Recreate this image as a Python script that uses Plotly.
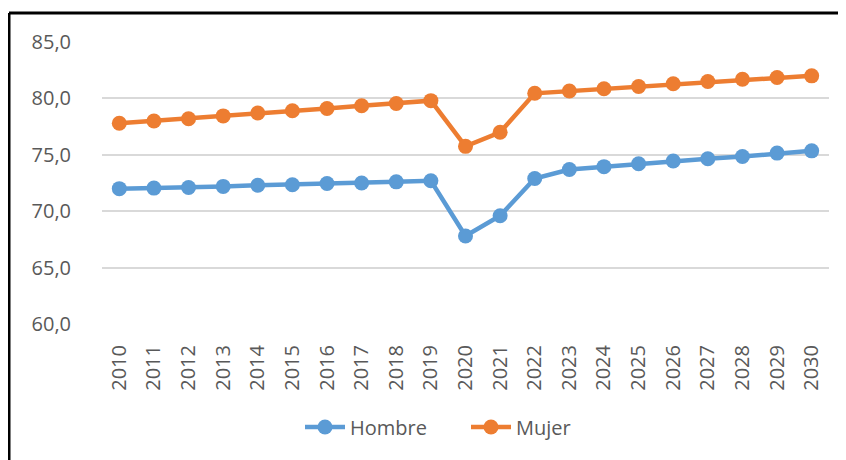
import plotly.graph_objects as go

years = [str(y) for y in range(2010, 2031)]
hombre = [72.0, 72.05, 72.1, 72.2, 72.3, 72.35, 72.45, 72.5, 72.6, 72.7,
          67.8, 69.6, 72.9, 73.7, 73.95, 74.2, 74.45, 74.65, 74.85, 75.15, 75.35]
mujer = [77.8, 78.0, 78.2, 78.45, 78.7, 78.9, 79.1, 79.35, 79.55, 79.8,
         75.75, 77.0, 80.45, 80.65, 80.85, 81.05, 81.3, 81.5, 81.7, 81.85, 82.0]
y_ticks = [60, 65, 70, 75, 80, 85]
y_ticktext = ["60,0", "65,0", "70,0", "75,0", "80,0", "85,0"]

FONT = "Open Sans"
GREY = "#595959"

fig = go.Figure()
fig.add_trace(go.Scatter(x=years, y=hombre, name="Hombre", mode="lines+markers",
                         line=dict(color="#5B9BD5", width=4.5),
                         marker=dict(size=15, color="#5B9BD5")))
fig.add_trace(go.Scatter(x=years, y=mujer, name="Mujer", mode="lines+markers",
                         line=dict(color="#ED7D31", width=4.5),
                         marker=dict(size=15, color="#ED7D31")))

# page body has an 8px margin; work in figure coordinates
OFF = 8
W, H = 846 - OFF, 460 - OFF
L, R, T, B = 102 - OFF, W - (829 - OFF), 42 - OFF, H - (324 - OFF)
pw = W - L - R
ph = H - T - B

def px(x):  # page x -> paper
    return (x - OFF - L) / pw

def py(y):  # page y -> paper
    return (H - B - (y - OFF)) / ph

fig.update_layout(
    width=W, height=H,
    margin=dict(l=L, r=R, t=T, b=B),
    plot_bgcolor="white", paper_bgcolor="white",
    font=dict(family=FONT, size=20, color=GREY),
    showlegend=True,
    legend=dict(orientation="h", x=px(300), xanchor="left", y=py(427), yanchor="middle",
                font=dict(family=FONT, size=20, color=GREY), itemwidth=40,
                entrywidth=111, entrywidthmode="pixels",
                bgcolor="rgba(0,0,0,0)"),
    xaxis=dict(type="category", range=[-0.5, 20.5], showgrid=False, zeroline=False,
               showline=False, tickangle=-90, ticks="outside", ticklen=12,
               tickcolor="rgba(0,0,0,0)", tickfont=dict(family=FONT, size=20, color=GREY)),
    yaxis=dict(range=[60, 85], tickvals=y_ticks, ticktext=y_ticktext,
               showgrid=True, gridcolor="#D9D9D9", gridwidth=2, zeroline=False,
               showline=False, ticks="outside", ticklen=26, tickcolor="rgba(0,0,0,0)",
               tickfont=dict(family=FONT, size=20, color=GREY)),
    shapes=[
        dict(type="line", xref="paper", yref="paper", x0=px(9), x1=px(846), y0=py(13), y1=py(13),
             line=dict(color="black", width=3)),
        dict(type="line", xref="paper", yref="paper", x0=px(9), x1=px(9), y0=py(13), y1=py(470),
             line=dict(color="black", width=3)),
    ],
)

fig.write_html("out.html")
